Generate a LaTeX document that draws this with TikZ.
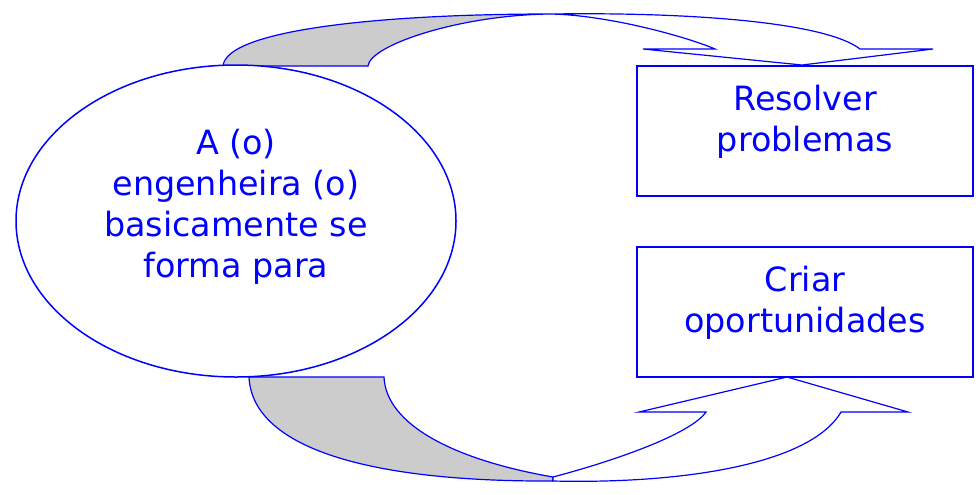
\documentclass[tikz,border=0pt]{standalone}
\usepackage{fontspec}
\setmainfont{DejaVu Sans}
\usetikzlibrary{shapes.geometric}
\definecolor{lineblue}{RGB}{0,0,255}
\definecolor{ribbongray}{RGB}{204,204,204}
\tikzset{
  ribbon/.style={draw=lineblue, line width=0.6pt, line join=miter},
  ovalbox/.style={ellipse, draw=lineblue, line width=0.75pt, fill=white, minimum width=220pt, minimum height=156pt, inner sep=0pt},
  rectbox/.style={rectangle, draw=lineblue, line width=0.9pt, minimum width=168pt, minimum height=65pt, inner sep=0pt},
  bluetext/.style={text=lineblue, align=center, font=\fontsize{16.7}{20.5}\selectfont, inner sep=0pt}
}
\begin{document}
\begin{tikzpicture}[x=0.5pt, y=-0.5pt]
\useasboundingbox (0,0) rectangle (978,494);
% top curved arrow
\filldraw[ribbon, fill=ribbongray] (223,66) .. controls (226,30) and (380,14) .. (550,14)
  .. controls (460,15) and (370,45) .. (368,66) -- cycle;
\filldraw[ribbon, fill=white] (550,14) .. controls (690,12) and (825,22) .. (860,49)
  -- (933,49) -- (802,65) -- (643,49) -- (715,49)
  .. controls (690,38) and (610,15) .. (550,14) -- cycle;
% bottom curved arrow
\filldraw[ribbon, fill=ribbongray] (249,377) .. controls (252,445) and (360,482) .. (553,481)
  -- (553,477) .. controls (455,460) and (386,425) .. (384,377) -- cycle;
\filldraw[ribbon, fill=white] (553,481) .. controls (680,484) and (810,465) .. (841,412)
  -- (908,412) -- (787,377) -- (639,412) -- (706,412)
  .. controls (690,435) and (610,462) .. (553,477) -- cycle;
% nodes
\node[ovalbox] (ell) at (236,221) {};
\node[bluetext] (elltxt) at (236,207) {A (o)\\engenheira (o)\\basicamente se\\forma para};
\node[rectbox] (box1) at (805,131) {};
\node[bluetext] (box1txt) at (805,122) {Resolver\\problemas};
\node[rectbox] (box2) at (805,312) {};
\node[bluetext] (box2txt) at (805,303) {Criar\\oportunidades};
\end{tikzpicture}
\end{document}
